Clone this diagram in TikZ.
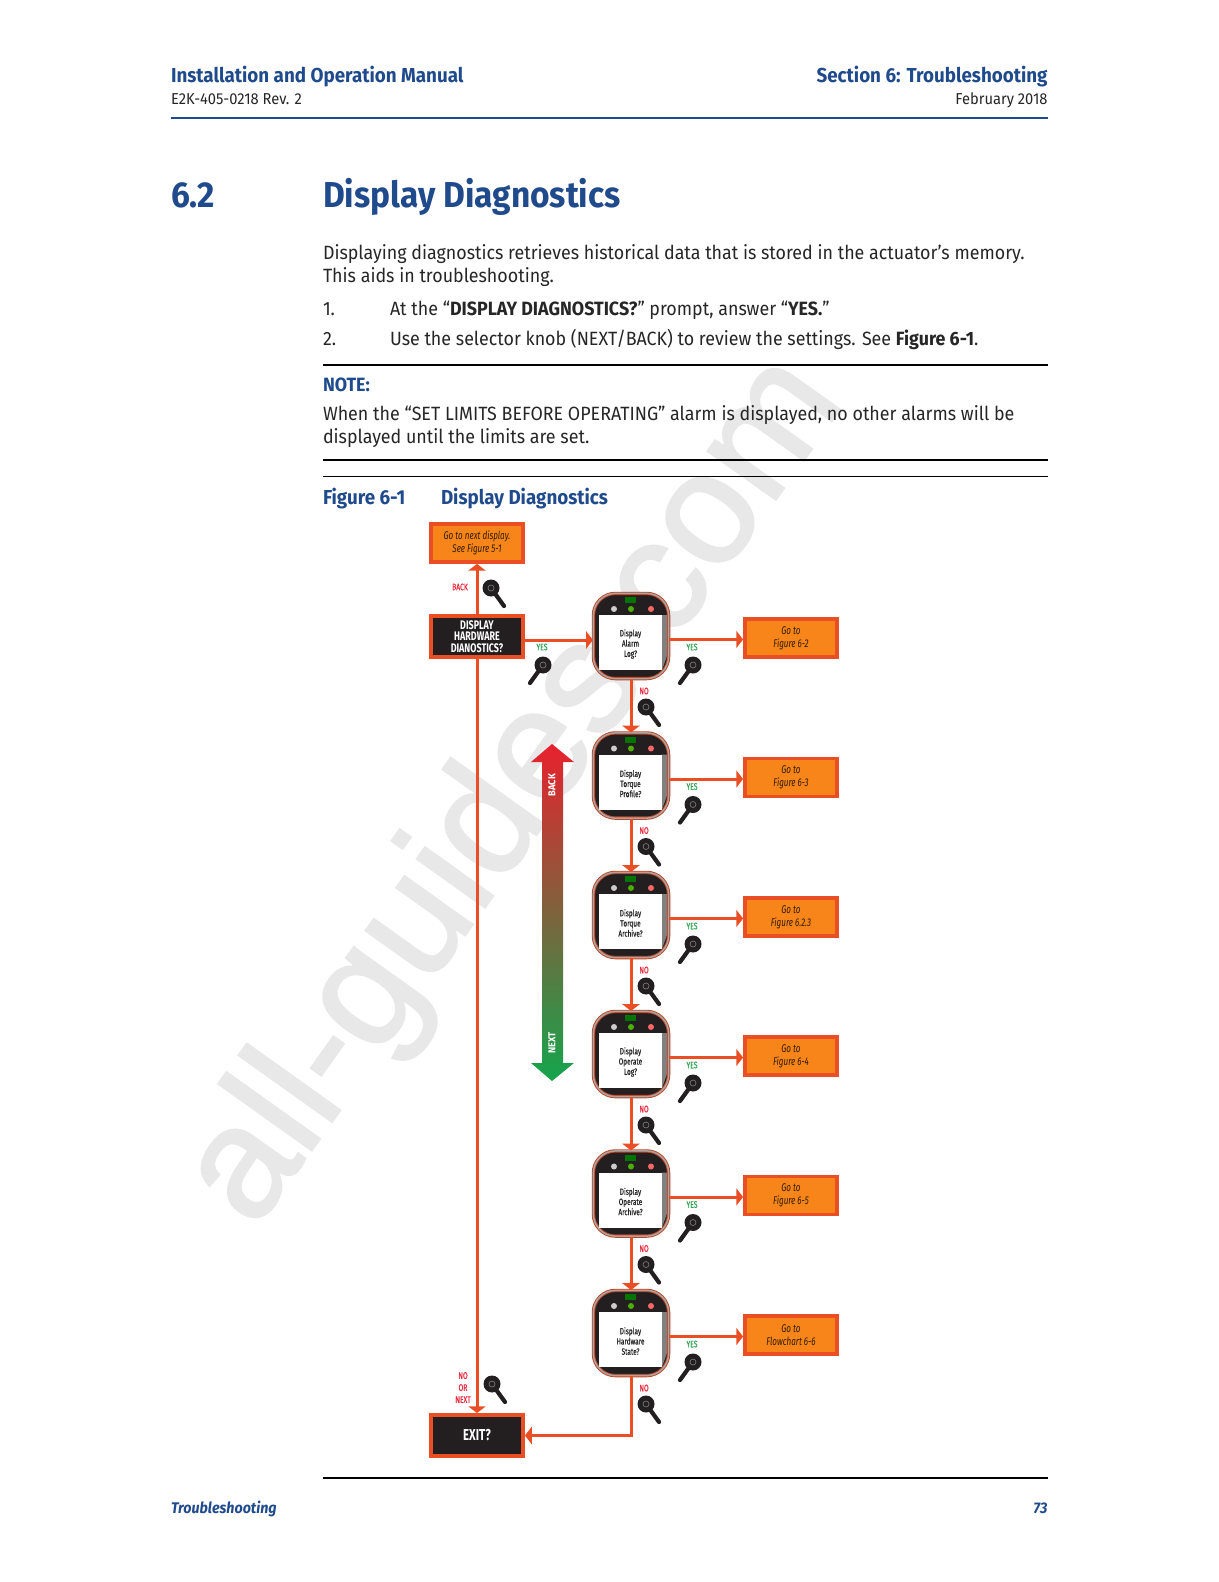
\documentclass[tikz,border=0pt]{standalone}
\usepackage{fontspec}
\setmainfont[FakeStretch=0.93]{Fira Sans}
\newfontfamily\condfont[FakeStretch=0.72]{Fira Sans}
\newfontfamily\medfont[FakeStretch=0.72,FakeBold=0.4]{Fira Sans}
\newfontfamily\markfont[FakeBold=1.5]{Liberation Sans}
\usetikzlibrary{arrows.meta}
\definecolor{headblue}{HTML}{1F4A8C}
\definecolor{flowline}{HTML}{E94E24}
\definecolor{goorange}{HTML}{F7851A}
\definecolor{darkbox}{HTML}{231F20}
\definecolor{yesgreen}{HTML}{2BA24C}
\definecolor{noired}{HTML}{E8283C}
\definecolor{markgray}{HTML}{E8E8E8}
\definecolor{bartop}{HTML}{E8212E}
\definecolor{barmid}{HTML}{A0683F}
\definecolor{barbot}{HTML}{14A54C}
\tikzset{
  plaintext/.style={anchor=base west,inner sep=0pt,outer sep=0pt},
  bodytext/.style={plaintext,text=black!85,font=\fontsize{9.6bp}{11bp}\selectfont},
  smalltext/.style={plaintext,text=black!85,font=\fontsize{7.9bp}{9bp}\selectfont},
  headtext/.style={plaintext,text=headblue,font=\bfseries\fontsize{10.1bp}{11bp}\selectfont},
  bighead/.style={plaintext,text=headblue,font=\bfseries\fontsize{18bp}{20bp}\selectfont},
  foottext/.style={plaintext,text=headblue,font=\bfseries\itshape\fontsize{7.7bp}{9bp}\selectfont},
  flowarrow/.style={draw=flowline,line width=1.5bp,-{Triangle[length=3.4bp,width=8.6bp]}},
  flowbox/.style={draw=flowline,line width=1.85bp,minimum width=46.1bp,minimum height=19bp,inner sep=0pt,align=center},
  gobox/.style={flowbox,fill=goorange,text=black!80!goorange,font=\condfont\itshape\fontsize{5.6bp}{6.5bp}\selectfont},
  askbox/.style={flowbox,fill=darkbox,minimum height=20.6bp,text=white,font=\condfont\bfseries\fontsize{6.2bp}{5.6bp}\selectfont},
  devicebox/.style={draw=flowline!85!black,double=black!35,double distance=0.75bp,line width=0.45bp,fill=darkbox,rounded corners=11bp,minimum width=37.6bp,minimum height=42.6bp,inner sep=0pt},
  screenbox/.style={fill=white,minimum width=31.5bp,minimum height=27.5bp,inner sep=0pt},
  screentext/.style={inner sep=0pt,align=center,text=black!85,font=\medfont\fontsize{4.5bp}{5.1bp}\selectfont},
  yeslabel/.style={inner sep=0pt,text=yesgreen,font=\medfont\fontsize{4.7bp}{6bp}\selectfont},
  nolabel/.style={inner sep=0pt,align=center,text=noired,font=\medfont\fontsize{4.7bp}{6bp}\selectfont},
  knobicon/.pic={
    \draw[darkbox,line width=2.1bp,line cap=round] (0,0) -- (13,18);
    \fill[darkbox] (0,0) circle[radius=8.5];
    \draw[black!50,line width=0.3bp] (0,0) circle[radius=3];
  }
}
\begin{document}
\begin{tikzpicture}[x=0.5bp,y=-0.5bp]
\useasboundingbox (0,0) rectangle (1219,1582);
\fill[white] (0,0) rectangle (1219,1582);
%%%%%%%%%%
% Watermark (background)
%%%%%%%%%%
\node[rotate=54.5,text=markgray,inner sep=0pt,font=\markfont\fontsize{79bp}{79bp}\selectfont] (mark) at (517,792) {all-guides.com};

%%%%%%%%%%
% Page text
%%%%%%%%%%
\node[headtext] (title) at (171,82.5) {Installation and Operation Manual};
\node[headtext,anchor=base east] (section) at (1047.5,82.5) {Section 6: Troubleshooting};
\node[smalltext] (docno) at (171,104.5) {E2K-405-0218 Rev. 2};
\node[smalltext,anchor=base east] (docdate) at (1047.5,104.5) {February 2018};
\draw[headblue,line width=0.9bp] (171,118) -- (1047.5,118);

\node[bighead] (secno) at (171,207.5) {6.2};
\node[bighead] (sechead) at (323,207.5) {Display Diagnostics};

\node[bodytext] (para1) at (323,259) {Displaying diagnostics retrieves historical data that is stored in the actuator’s memory.};
\node[bodytext] (para2) at (323,282) {This aids in troubleshooting.};
\node[bodytext] (num1) at (323,315) {1.};
\node[bodytext] (item1) at (390,315) {At the “\textbf{DISPLAY DIAGNOSTICS?}” prompt, answer “\textbf{YES.}”};
\node[bodytext] (num2) at (323,345) {2.};
\node[bodytext] (item2) at (390,345) {Use the selector knob (NEXT/BACK) to review the settings. See \textbf{Figure 6-1}.};
\draw[black,line width=0.75bp] (323,365) -- (1047.5,365);
\node[headtext,font=\bfseries\fontsize{9.6bp}{11bp}\selectfont] (notehead) at (323,391) {NOTE:};
\node[bodytext] (note1) at (323,420) {When the “SET LIMITS BEFORE OPERATING” alarm is displayed, no other alarms will be};
\node[bodytext] (note2) at (323,443) {displayed until the limits are set.};
\draw[black,line width=0.75bp] (323,460) -- (1047.5,460);
\draw[black,line width=0.4bp] (323,476) -- (1047.5,476);
\node[headtext] (figno) at (323,504) {Figure 6-1};
\node[headtext] (fighead) at (441,504) {Display Diagnostics};

\draw[black,line width=0.75bp] (323,1478) -- (1047.5,1478);
\node[foottext] (foot) at (171,1513.5) {Troubleshooting};
\node[foottext,anchor=base east] (pageno) at (1047.5,1513.5) {73};

%%%%%%%%%%
% Back/next bar
%%%%%%%%%%
\shade[top color=bartop,middle color=barmid,bottom color=barbot]
  (552,744) -- (574,762) -- (563,762) -- (563,1063) -- (574,1063) -- (552,1081)
  -- (531,1063) -- (542,1063) -- (542,762) -- (531,762) -- cycle;
\node[rotate=90,text=white,inner sep=0pt,font=\bfseries\fontsize{5bp}{6bp}\selectfont] (backbar) at (552,785) {BACK};
\node[rotate=90,text=white,inner sep=0pt,font=\bfseries\fontsize{5bp}{6bp}\selectfont] (nextbar) at (552,1043) {NEXT};

%%%%%%%%%%
% Left column
%%%%%%%%%%
\node[gobox] (nextdisp) at (477,543) {Go to next display.\\See Figure 5-1};
\node[askbox] (start) at (477,636.5) {DISPLAY\\HARDWARE\\DIANOSTICS?};
\node[askbox,font=\condfont\bfseries\fontsize{7.9bp}{8bp}\selectfont] (exit) at (477,1435.5) {EXIT?};

%%%%%%%%%%
% Devices, one row each
%%%%%%%%%%
\foreach \i/\yy/\ta/\tb/\tc in {
1/636/Alarm/Log?/Figure 6-2,
2/775.5/Torque/Profile?/Figure 6-3,
3/915/Torque/Archive?/Figure 6.2.3,
4/1054/Operate/Log?/Figure 6-4,
5/1193.5/Operate/Archive?/Figure 6-5,
6/1333/Hardware/State?/Flowchart 6-6
} {
\node[devicebox] (dev\i) at (631,\yy) {};
\fill[black!50] (662,\yy-21) -- (667,\yy-21) -- (667,\yy+20) -- (662,\yy+34) -- cycle;
\node[screenbox] (scr\i) at (630.5,\yy+6.5) {};
\node[screentext] (txt\i) at (630.5,\yy+8) {Display\\\ta\\\tb};
\fill[white!80!black] (614,\yy-27) circle[radius=3];
\fill[green!55!black!70!yellow] (631,\yy-27) circle[radius=3];
\fill[red!60!white] (651,\yy-27) circle[radius=3];
\fill[green!45!black] (625,\yy-39) rectangle (636,\yy-33);
\node[gobox] (go\i) at (791,\yy+2) {Go to\\\tc};
\coordinate (tap\i) at (go\i.west |- {0,\yy+3.5});
\draw[flowarrow] (dev\i.east |- tap\i) -- (tap\i);
\node[yeslabel] (yes\i) at (692,\yy+11) {YES};
\pic[xscale=-1] at (693,\yy+29) {knobicon};
\node[nolabel] (no\i) at (644,\yy+55) {NO};
\pic at (646,\yy+71) {knobicon};
}

% Connectors
\foreach \from/\to in {dev1/dev2,dev2/dev3,dev3/dev4,dev4/dev5,dev5/dev6} {
\draw[flowarrow] (\from) -- (\to);
}
\draw[flowarrow] (start) -- (nextdisp);
\draw[flowarrow] (start) -- (exit);
\coordinate (tap0) at (dev1.west |- {0,640});
\draw[flowarrow] (start.east |- tap0) -- (tap0);
\draw[flowarrow] (dev6.south) |- (exit.east);

% Left column labels
\node[nolabel] (backlab) at (460,587) {BACK};
\pic at (491,588) {knobicon};
\node[yeslabel] (yes0) at (542,647) {YES};
\pic[xscale=-1] at (543,665) {knobicon};
\node[nolabel] (exitlab) at (463,1387.5) {NO\\OR\\NEXT};
\pic at (492,1384) {knobicon};

\end{tikzpicture}
\end{document}
